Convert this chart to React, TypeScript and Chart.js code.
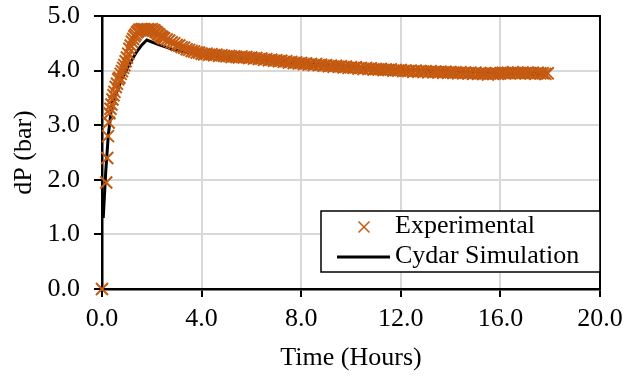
import React, { useEffect, useRef } from 'react';
import Chart from 'chart.js/auto';

const FONT = "'Times New Roman', 'Liberation Serif', serif";
const ORANGE = '#C55A11';

// Time axis ticks
const xTicks = [0, 4, 8, 12, 16, 20];
const yTicks = [0, 1, 2, 3, 4, 5];

// Experimental data (hours, bar)
const expTime = [
  0.0, 0.17, 0.21, 0.24, 0.27, 0.3, 0.34, 0.38, 0.42, 0.46, 0.5, 0.55, 0.6, 0.65, 0.7, 0.75, 0.8, 0.85, 0.9, 0.95,
  1.0, 1.05, 1.1, 1.15, 1.2, 1.25, 1.3, 1.35, 1.4, 1.45, 1.5, 1.55, 1.6, 1.65, 1.7, 1.75, 1.8, 1.85, 1.9, 1.95,
  2.0, 2.05, 2.1, 2.15, 2.2, 2.25, 2.3, 2.35, 2.4, 2.45, 2.5,
  2.6, 2.7, 2.8, 2.9, 3.0, 3.1, 3.2, 3.3, 3.4, 3.5, 3.6, 3.7, 3.8, 3.9,
  4.0, 4.1, 4.2, 4.3, 4.4, 4.5, 4.6, 4.7, 4.8, 4.9,
  5.0, 5.1, 5.2, 5.3, 5.4, 5.5, 5.6, 5.7, 5.8, 5.9,
  6.0, 6.1, 6.2, 6.3, 6.4, 6.5, 6.6, 6.7, 6.8, 6.9,
  7.0, 7.1, 7.2, 7.3, 7.4, 7.5, 7.6, 7.7, 7.8, 7.9,
  8.0, 8.1, 8.2, 8.3, 8.4, 8.5, 8.6, 8.7, 8.8, 8.9,
  9.0, 9.1, 9.2, 9.3, 9.4, 9.5, 9.6, 9.7, 9.8, 9.9,
  10.0, 10.1, 10.2, 10.3, 10.4, 10.5, 10.6, 10.7, 10.8, 10.9,
  11.0, 11.1, 11.2, 11.3, 11.4, 11.5, 11.6, 11.7, 11.8, 11.9,
  12.0, 12.1, 12.2, 12.3, 12.4, 12.5, 12.6, 12.7, 12.8, 12.9,
  13.0, 13.1, 13.2, 13.3, 13.4, 13.5, 13.6, 13.7, 13.8, 13.9,
  14.0, 14.1, 14.2, 14.3, 14.4, 14.5, 14.6, 14.7, 14.8, 14.9,
  15.0, 15.1, 15.2, 15.3, 15.4, 15.5, 15.6, 15.7, 15.8, 15.9,
  16.0, 16.1, 16.2, 16.3, 16.4, 16.5, 16.6, 16.7, 16.8, 16.9,
  17.0, 17.1, 17.2, 17.3, 17.4, 17.5, 17.6, 17.7, 17.8, 17.9,
];
const expDP = [
  0.0, 1.95, 2.4, 2.8, 3.05, 3.22, 3.3, 3.38, 3.47, 3.55, 3.61, 3.7, 3.76, 3.84, 3.87, 3.94, 3.99, 4.05, 4.1, 4.17,
  4.24, 4.31, 4.4, 4.46, 4.53, 4.58, 4.63, 4.66, 4.7, 4.72, 4.75, 4.74, 4.76, 4.75, 4.76, 4.74, 4.75, 4.76, 4.74, 4.75,
  4.76, 4.73, 4.74, 4.71, 4.7, 4.67, 4.66, 4.63, 4.62, 4.6, 4.59,
  4.57, 4.55, 4.52, 4.5, 4.47, 4.46, 4.43, 4.42, 4.39, 4.38, 4.36, 4.35, 4.33, 4.33,
  4.31, 4.3, 4.31, 4.29, 4.3, 4.28, 4.29, 4.27, 4.28, 4.27,
  4.26, 4.27, 4.25, 4.26, 4.25, 4.24, 4.26, 4.24, 4.25, 4.23,
  4.24, 4.22, 4.23, 4.21, 4.22, 4.2, 4.21, 4.19, 4.2, 4.18,
  4.19, 4.17, 4.18, 4.16, 4.17, 4.15, 4.16, 4.14, 4.15, 4.13,
  4.14, 4.12, 4.13, 4.11, 4.12, 4.1, 4.12, 4.1, 4.11, 4.09,
  4.1, 4.08, 4.09, 4.07, 4.09, 4.07, 4.08, 4.06, 4.07, 4.05,
  4.06, 4.05, 4.06, 4.04, 4.05, 4.03, 4.05, 4.03, 4.04, 4.02,
  4.03, 4.02, 4.03, 4.01, 4.02, 4.01, 4.02, 4.0, 4.01, 4.0,
  4.01, 3.99, 4.0, 3.99, 4.0, 3.98, 4.0, 3.98, 3.99, 3.98,
  3.99, 3.97, 3.99, 3.97, 3.98, 3.97, 3.98, 3.96, 3.98, 3.96,
  3.97, 3.96, 3.97, 3.95, 3.97, 3.95, 3.96, 3.95, 3.96, 3.94,
  3.96, 3.94, 3.95, 3.94, 3.95, 3.93, 3.95, 3.94, 3.95, 3.94,
  3.95, 3.96, 3.95, 3.96, 3.95, 3.97, 3.95, 3.96, 3.95, 3.96,
  3.95, 3.96, 3.95, 3.96, 3.94, 3.96, 3.95, 3.95, 3.94, 3.95,
];

// Cydar simulation (hours, bar)
const simTime = [0.05, 0.15, 0.25, 0.4, 0.6, 0.8, 1.0, 1.2, 1.4, 1.6, 1.8, 2.3, 2.9, 3.6, 4.0, 5.0, 6.0, 7.0, 8.0, 9.0, 10.0, 11.0, 12.0, 13.0, 14.0, 15.0, 16.0, 17.0, 17.9];
const simDP = [1.3, 2.15, 2.8, 3.4, 3.62, 3.85, 4.03, 4.2, 4.35, 4.47, 4.56, 4.47, 4.38, 4.32, 4.3, 4.26, 4.23, 4.18, 4.13, 4.1, 4.06, 4.03, 4.01, 3.99, 3.97, 3.96, 3.95, 3.95, 3.94];

const seriesLabels = ['Experimental', 'Cydar Simulation'];

export default function App() {
  const ref = useRef<HTMLCanvasElement>(null);

  useEffect(() => {
    const canvas = ref.current;
    if (!canvas) return;

    const frame = {
      id: 'frame',
      afterDraw(chart: any) {
        const { left, top, right, bottom } = chart.chartArea;
        const c = chart.ctx;
        c.save();
        c.strokeStyle = '#000';
        c.lineWidth = 2;
        c.beginPath();
        c.moveTo(left, top);
        c.lineTo(right, top);
        c.lineTo(right, bottom + 1);
        c.stroke();
        c.restore();
      },
    };

    const legendBox = {
      id: 'legendBox',
      afterDraw(chart: any) {
        const c = chart.ctx;
        const right = chart.chartArea.right;
        const bx = 321, by = 211, bw = right - bx, bh = 61;
        c.save();
        c.fillStyle = '#fff';
        c.fillRect(bx, by, bw, bh);
        c.strokeStyle = '#000';
        c.lineWidth = 1.5;
        c.strokeRect(bx, by, bw, bh);
        // marker
        c.strokeStyle = ORANGE;
        c.lineWidth = 1.5;
        const mx = 364, my = 227, r = 5.5;
        c.beginPath();
        c.moveTo(mx - r, my - r);
        c.lineTo(mx + r, my + r);
        c.moveTo(mx + r, my - r);
        c.lineTo(mx - r, my + r);
        c.stroke();
        // line
        c.strokeStyle = '#000';
        c.lineWidth = 3;
        c.beginPath();
        c.moveTo(337, 257);
        c.lineTo(390, 257);
        c.stroke();
        c.fillStyle = '#000';
        c.font = `26px ${FONT}`;
        c.textAlign = 'left';
        c.textBaseline = 'middle';
        c.fillText(seriesLabels[0], 395, 226);
        c.fillText(seriesLabels[1], 395, 256);
        c.restore();
      },
    };

    const chart = new Chart(canvas, {
      type: 'scatter',
      data: {
        datasets: [
          {
            label: seriesLabels[0],
            data: expTime.map((t, i) => ({ x: t, y: expDP[i] })),
            showLine: false,
            pointStyle: 'crossRot',
            pointRadius: 8.5,
            pointBorderWidth: 2,
            borderColor: ORANGE,
            backgroundColor: ORANGE,
            clip: false,
            order: 0,
          } as any,
          {
            label: seriesLabels[1],
            data: simTime.map((t, i) => ({ x: t, y: simDP[i] })),
            showLine: true,
            borderColor: '#000',
            backgroundColor: '#000',
            borderWidth: 3,
            pointRadius: 0,
            tension: 0,
            order: 1,
          } as any,
        ],
      },
      options: {
        animation: false,
        responsive: false,
        maintainAspectRatio: false,
        layout: { padding: { top: 16, right: 38, left: 0, bottom: 0 } },
        plugins: { legend: { display: false }, tooltip: { enabled: false } },
        scales: {
          x: {
            type: 'linear',
            min: 0,
            max: 20,
            afterFit: (s: any) => { s.height = 87; s.paddingLeft = 0; s.paddingRight = 0; },
            afterBuildTicks: (s: any) => { s.ticks = xTicks.map((v) => ({ value: v })); },
            ticks: {
              color: '#000',
              font: { family: FONT, size: 26 },
              padding: 7,
              maxRotation: 0,
              callback: (v: any) => Number(v).toFixed(1),
            },
            grid: { color: '#d9d9d9', lineWidth: 2, tickColor: '#000', tickLength: 8, tickWidth: 2 },
            border: { display: true, color: '#000', width: 2.5 },
            title: {
              display: true,
              text: 'Time (Hours)',
              color: '#000',
              font: { family: FONT, size: 26 },
              padding: { top: 0, bottom: 2 },
            },
          },
          y: {
            type: 'linear',
            min: 0,
            max: 5,
            afterFit: (s: any) => { s.width = 102; s.paddingTop = 0; s.paddingBottom = 0; },
            afterBuildTicks: (s: any) => { s.ticks = yTicks.map((v) => ({ value: v })); },
            ticks: {
              color: '#000',
              font: { family: FONT, size: 26 },
              padding: 14,
              callback: (v: any) => Number(v).toFixed(1),
            },
            grid: { color: '#d9d9d9', lineWidth: 2, tickColor: '#000', tickLength: 8, tickWidth: 2 },
            border: { display: true, color: '#000', width: 2.5 },
            title: {
              display: true,
              text: 'dP (bar)',
              color: '#000',
              font: { family: FONT, size: 26 },
              padding: { top: 9, bottom: 0 },
            },
          },
        },
      },
      plugins: [frame, legendBox],
    });

    return () => chart.destroy();
  }, []);

  return (
    <div style={{ position: 'absolute', left: 0, top: 0, width: 638, height: 376, background: '#fff' }}>
      <canvas ref={ref} width={638} height={376} style={{ display: 'block', width: 638, height: 376 }} />
    </div>
  );
}
